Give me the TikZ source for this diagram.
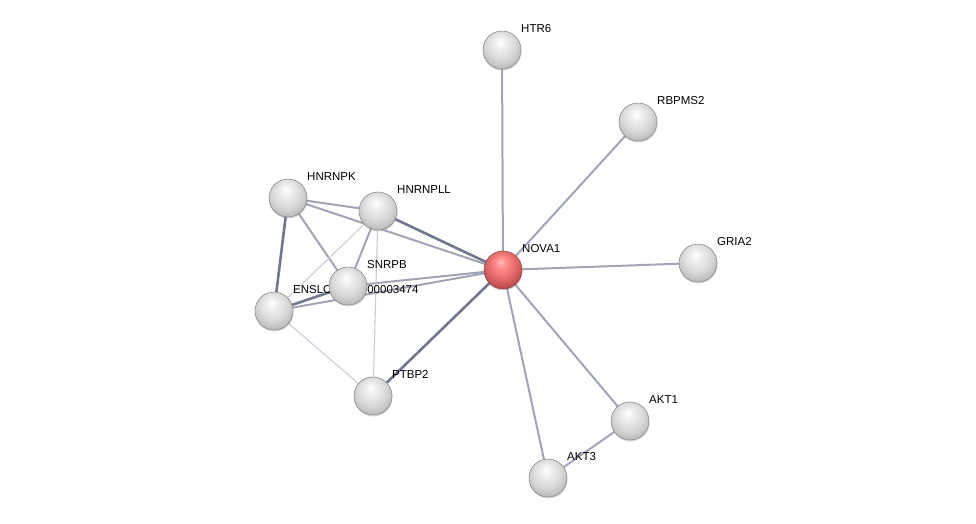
\documentclass[tikz,border=0pt]{standalone}
\usepackage{fontspec}
\setmainfont{Liberation Sans}
\usetikzlibrary{shadows}
\definecolor{edgemid}{HTML}{A0A4B6}
\definecolor{edgedark}{HTML}{72768F}
\definecolor{edgelight}{HTML}{CACCD8}
\pgfdeclareradialshading{grayball}{\pgfpoint{-3bp}{11bp}}{%
	color(0bp)=(white); color(7bp)=(white!94!black); color(20bp)=(white!84!black);
	color(30bp)=(white!72!black); color(50bp)=(white!55!black)}
\pgfdeclareradialshading{redball}{\pgfpoint{-3bp}{11bp}}{%
	color(0bp)=(white!75!red); color(7bp)=(red!45!white); color(20bp)=(red!55!white!88!black);
	color(30bp)=(red!60!white!70!black); color(50bp)=(red!60!black)}
\pgfdeclarelayer{edges}
\pgfdeclarelayer{labels}
\pgfsetlayers{edges,labels,main}

\begin{document}
\begin{tikzpicture}[
			x=1pt, y=-1pt,
			protein/.style={
					circle,
					minimum size=38pt,
					inner sep=0pt,
					shading=grayball,
					draw=black!45, line width=0.6pt,
					drop shadow={shadow xshift=0.5pt, shadow yshift=-1.5pt, opacity=0.3}
				},
			query/.style={protein, shading=redball, draw=red!40!black!70},
			lbl/.style={anchor=base west, inner sep=1pt, font=\fontsize{11.5}{13}\selectfont},
			weak/.style={draw=edgelight, line width=1.1pt},
			mid/.style={draw=edgemid, line width=2pt},
			strong/.style={draw=edgedark, line width=2.6pt}
		]
		\useasboundingbox (0,0) rectangle (976,523);

		% proteins
		\node[query] (nova1) at (503, 270) {};
		\node[protein] (htr6) at (502, 50) {};
		\node[protein] (rbpms2) at (638, 122) {};
		\node[protein] (gria2) at (698, 263) {};
		\node[protein] (akt1) at (630, 421) {};
		\node[protein] (akt3) at (548, 478) {};
		\node[protein] (ptbp2) at (373, 396) {};
		\node[protein] (hnrnpk) at (288, 198) {};
		\node[protein] (hnrnpll) at (378, 211) {};
		\node[protein] (ensl) at (274, 311) {};
		\node[protein] (snrpb) at (348, 286) {};

		% names, under the balls
		\begin{pgfonlayer}{labels}
			\node[lbl] (nova1-l) at ([shift={(18,-18)}]nova1.center) {NOVA1};
			\node[lbl] (htr6-l) at ([shift={(18,-18)}]htr6.center) {HTR6};
			\node[lbl] (rbpms2-l) at ([shift={(18,-18)}]rbpms2.center) {RBPMS2};
			\node[lbl] (gria2-l) at ([shift={(18,-18)}]gria2.center) {GRIA2};
			\node[lbl] (akt1-l) at ([shift={(18,-18)}]akt1.center) {AKT1};
			\node[lbl] (akt3-l) at ([shift={(18,-18)}]akt3.center) {AKT3};
			\node[lbl] (ptbp2-l) at ([shift={(18,-18)}]ptbp2.center) {PTBP2};
			\node[lbl] (hnrnpk-l) at ([shift={(18,-18)}]hnrnpk.center) {HNRNPK};
			\node[lbl] (hnrnpll-l) at ([shift={(18,-18)}]hnrnpll.center) {HNRNPLL};
			\node[lbl] (ensl-l) at ([shift={(18,-18)}]ensl.center) {ENSLOCP00000003474};
			\node[lbl] (snrpb-l) at ([shift={(18,-18)}]snrpb.center) {SNRPB};
		\end{pgfonlayer}

		% interactions
		\begin{pgfonlayer}{edges}
			\draw[mid] (nova1.center) -- (htr6.center);
			\draw[mid] (nova1.center) -- (rbpms2.center);
			\draw[mid] (nova1.center) -- (gria2.center);
			\draw[mid] (nova1.center) -- (akt1.center);
			\draw[mid] (nova1.center) -- (akt3.center);
			\draw[mid] (akt1.center) -- (akt3.center);
			\draw[strong] (nova1.center) -- (ptbp2.center);
			\draw[mid] (nova1.center) -- (hnrnpk.center);
			\draw[strong] (nova1.center) -- (hnrnpll.center);
			\draw[mid] (nova1.center) -- (snrpb.center);
			\draw[mid] (nova1.center) -- (ensl.center);
			\draw[mid] (hnrnpk.center) -- (hnrnpll.center);
			\draw[strong] (hnrnpk.center) -- (ensl.center);
			\draw[mid] (hnrnpk.center) -- (snrpb.center);
			\draw[weak] (hnrnpll.center) -- (ensl.center);
			\draw[mid] (hnrnpll.center) -- (snrpb.center);
			\draw[weak] (hnrnpll.center) -- (ptbp2.center);
			\draw[strong] (snrpb.center) -- (ensl.center);
			\draw[weak] (ensl.center) -- (ptbp2.center);
		\end{pgfonlayer}
	\end{tikzpicture}
\end{document}
